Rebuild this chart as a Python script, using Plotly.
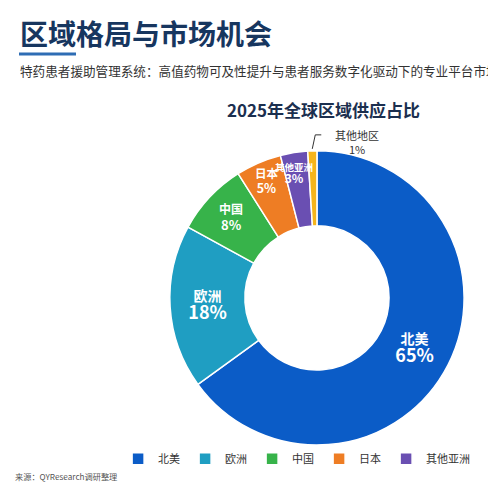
import numpy as np
import plotly.graph_objects as go

# data
regions = ["北美", "欧洲", "中国", "日本", "其他亚洲", "其他地区"]
shares = [65, 18, 8, 5, 3, 1]
colors = ["#0B5CC7", "#1F9EC2", "#37B34A", "#EE7D24", "#6A4FB2", "#F4B41C"]

title = "区域格局与市场机会"
subtitle = "特药患者援助管理系统：高值药物可及性提升与患者服务数字化驱动下的专业平台市场分析报告"
chart_title = "2025年全球区域供应占比"
source = "来源：QYResearch调研整理"

FONT = "Noto Sans CJK SC, Noto Sans, sans-serif"
W, H = 488, 488
dom_x = [0.348, 0.951]
dom_y = [0.088, 0.691]
hole = 0.49

big = "<b>%{label}</b><br><span style='font-size:18px'><b>%{value}%</b></span>"
small = "<b>%{label}</b><br><span style='font-size:13px'><b>%{value}%</b></span>"
# the two thinnest slices get their labels from annotations below
templates = [big, big, small, small, "", ""]
text_sizes = [14, 14, 12, 12, 10, 11]

fig = go.Figure(go.Pie(
    labels=regions,
    values=shares,
    hole=hole,
    sort=False,
    direction="clockwise",
    rotation=0,
    marker=dict(colors=colors, line=dict(color="white", width=1.5)),
    texttemplate=templates,
    textposition="inside",
    insidetextorientation="horizontal",
    textfont=dict(family=FONT, size=text_sizes, color="white"),
    domain=dict(x=dom_x, y=dom_y),
    hoverinfo="label+value",
))

# pie geometry in pixels, to place the labels of the thin slices
cx = np.mean(dom_x) * W
cy = (1 - np.mean(dom_y)) * H
R = min((dom_x[1] - dom_x[0]) * W, (dom_y[1] - dom_y[0]) * H) / 2
frac = np.array(shares) / sum(shares)
mid = (np.cumsum(frac) - frac / 2) * 2 * np.pi


def to_paper(r, ang):
    return (cx + r * np.sin(ang)) / W, 1 - (cy - r * np.cos(ang)) / H


annotations = [
    dict(text="<b>" + title + "</b>", x=18 / W, y=1 - 33 / H,
         xanchor="left", yanchor="middle",
         font=dict(size=28, color="#17365F")),
    dict(text=subtitle, x=18 / W, y=1 - 70 / H,
         xanchor="left", yanchor="middle",
         font=dict(size=12.6, color="#333333")),
    dict(text="<b>" + chart_title + "</b>", x=323 / W, y=1 - 110 / H,
         xanchor="center", yanchor="middle",
         font=dict(size=17, color="#1B2F4F")),
    dict(text=source, x=13 / W, y=1 - 476 / H,
         xanchor="left", yanchor="middle",
         font=dict(size=8.2, color="#555555")),
]

# label inside the 其他亚洲 slice
ax_, ay_ = to_paper(0.86 * R, mid[4])
annotations.append(dict(
    text="<b>%s</b><br><span style='font-size:12px'><b>%d%%</b></span>" % (regions[4], shares[4]),
    x=ax_, y=ay_, xanchor="center", yanchor="middle", xshift=-3,
    font=dict(size=9.5, color="white")))

# outside label of 其他地区 with an elbow leader line
ex, ey = to_paper(R + 2, mid[5])
annotations.append(dict(
    text="%s<br>%d%%" % (regions[5], shares[5]),
    x=ex, y=ey, xanchor="center", yanchor="middle", xshift=45, yshift=7,
    font=dict(size=11, color="#333333")))
for a in annotations:
    a.update(xref="paper", yref="paper", showarrow=False)

shapes = [
    dict(type="line", xref="paper", yref="paper",
         x0=19 / W, x1=76 / W, y0=1 - 54 / H, y1=1 - 54 / H,
         line=dict(color="#2E6DB4", width=3)),
    dict(type="path", xref="paper", yref="paper",
         path="M %f,%f L %f,%f L %f,%f" % (ex, ey, ex + 3 / W, ey + 14 / H, ex + 9 / W, ey + 14 / H),
         line=dict(color="#333333", width=1)),
]

fig.update_layout(
    width=W,
    height=H,
    margin=dict(l=0, r=0, t=0, b=0, autoexpand=False),
    paper_bgcolor="white",
    plot_bgcolor="white",
    font=dict(family=FONT, color="#333333"),
    showlegend=True,
    legend=dict(
        orientation="h",
        x=0.242, xanchor="left",
        y=0.06, yanchor="middle",
        font=dict(size=11, color="#333333"),
        bgcolor="rgba(0,0,0,0)",
    ),
    annotations=annotations,
    shapes=shapes,
)

fig.write_html(
    "out.html",
    config={"displayModeBar": False},
    post_script="document.body.style.margin='0';document.body.style.overflow='hidden';",
)
